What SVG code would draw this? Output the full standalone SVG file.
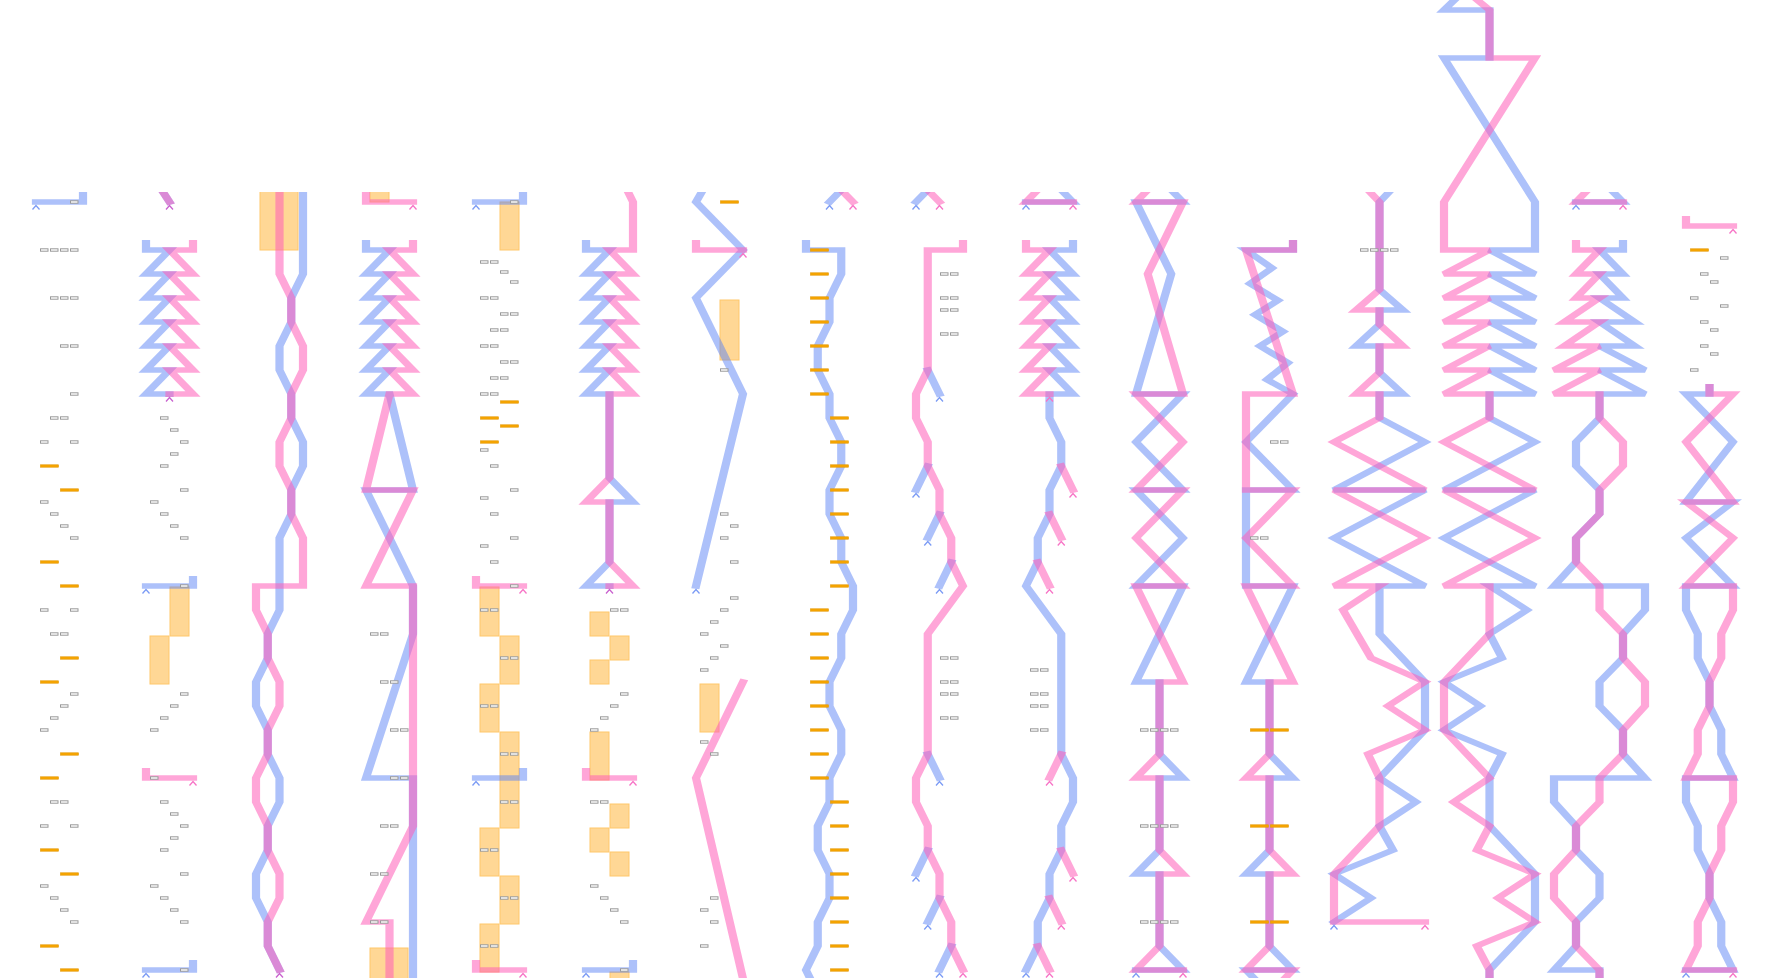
<svg xmlns="http://www.w3.org/2000/svg" width="1770" height="978" viewBox="0 0 1770 978">
<style>
.ln{fill:none;stroke-width:8.2;stroke-linejoin:miter;stroke-miterlimit:3;stroke-linecap:square}
.b{stroke:#5b84f5;stroke-opacity:.5}
.p{stroke:#ff5cb8;stroke-opacity:.55}
.r{fill:#fff;stroke:#999;stroke-width:1}
.o{fill:#f5a500;stroke:#e39600;stroke-width:.6}
.lo{fill:#ffd795;stroke:#ffc76a;stroke-width:1}
.cb{fill:none;stroke:#7b9bf5;stroke-width:1.3}
.cp{fill:none;stroke:#f774c6;stroke-width:1.3}
.cm{fill:none;stroke:#c962cf;stroke-width:1.3}
</style>
<defs>
<clipPath id="clip"><rect x="0" y="192" width="1770" height="786"/></clipPath>
<rect id="sr" x="0.5" y="-1.2" width="7.5" height="2.4"/>
<rect id="ob" x="0.5" y="-1.2" width="18" height="2.4"/>
<path id="ca" d="M-3.5,7.5L0,3.5L3.5,7.5"/>
</defs>
<rect width="1770" height="978" fill="#fff"/>

<g id="col1" clip-path="url(#clip)">
<g class="lanes" transform="matrix(1 0 0 .666667 0 10)">
<path class="ln b" d="M83,270V288H36"/>
</g>
<use href="#ca" class="cb" x="36" y="202"/>
<g class="r">
<use href="#sr" x="70" y="202"/><use href="#sr" x="40" y="250"/><use href="#sr" x="50" y="250"/><use href="#sr" x="60" y="250"/><use href="#sr" x="70" y="250"/>
<use href="#sr" x="50" y="298"/><use href="#sr" x="60" y="298"/><use href="#sr" x="70" y="298"/><use href="#sr" x="60" y="346"/><use href="#sr" x="70" y="346"/>
<use href="#sr" x="70" y="394"/><use href="#sr" x="50" y="418"/><use href="#sr" x="60" y="418"/><use href="#sr" x="40" y="442"/><use href="#sr" x="70" y="442"/>
<use href="#sr" x="40" y="502"/><use href="#sr" x="50" y="514"/><use href="#sr" x="60" y="526"/><use href="#sr" x="70" y="538"/>
<use href="#sr" x="40" y="610"/><use href="#sr" x="70" y="610"/><use href="#sr" x="50" y="634"/><use href="#sr" x="60" y="634"/>
<use href="#sr" x="70" y="694"/><use href="#sr" x="60" y="706"/><use href="#sr" x="50" y="718"/><use href="#sr" x="40" y="730"/>
<use href="#sr" x="50" y="802"/><use href="#sr" x="60" y="802"/><use href="#sr" x="40" y="826"/><use href="#sr" x="70" y="826"/>
<use href="#sr" x="40" y="886"/><use href="#sr" x="50" y="898"/><use href="#sr" x="60" y="910"/><use href="#sr" x="70" y="922"/>
</g>
<g class="o">
<use href="#ob" x="40" y="466"/><use href="#ob" x="60" y="490"/><use href="#ob" x="40" y="562"/><use href="#ob" x="60" y="586"/>
<use href="#ob" x="60" y="658"/><use href="#ob" x="40" y="682"/><use href="#ob" x="60" y="754"/><use href="#ob" x="40" y="778"/>
<use href="#ob" x="40" y="850"/><use href="#ob" x="60" y="874"/><use href="#ob" x="40" y="946"/><use href="#ob" x="60" y="970"/>
</g>
</g>

<g id="col2" clip-path="url(#clip)">
<rect class="lo" x="170" y="587" width="19" height="49"/><rect class="lo" x="150" y="636" width="19" height="48"/>
<g class="lanes" transform="matrix(1 0 0 .666667 0 10)">
<path class="ln b" d="M157.75,261L169.5,288"/><path class="ln p" d="M157.75,261L169.5,288"/>
<path class="ln b" d="M146,349.2V360H169.5L146,396H169.5L146,432H169.5L146,468H169.5L146,504H169.5L146,540H169.5L146,576H169.5v.5"/>
<path class="ln p" d="M193,349.2V360H169.5L193,396H169.5L193,432H169.5L193,468H169.5L193,504H169.5L193,540H169.5L193,576H169.5v.5"/>
<path class="ln b" d="M193,853.2V864H146"/>
<path class="ln p" d="M146,1141.2V1152H193"/>
<path class="ln b" d="M193,1429.2V1440H146"/>
</g>
<use href="#ca" class="cm" x="169.5" y="202"/><use href="#ca" class="cm" x="169.5" y="394"/><use href="#ca" class="cb" x="146" y="586"/><use href="#ca" class="cp" x="193" y="778"/><use href="#ca" class="cb" x="146" y="970"/>
<g class="r">
<use href="#sr" x="160" y="418"/><use href="#sr" x="170" y="430"/><use href="#sr" x="180" y="442"/><use href="#sr" x="170" y="454"/><use href="#sr" x="160" y="466"/>
<use href="#sr" x="180" y="490"/><use href="#sr" x="150" y="502"/><use href="#sr" x="160" y="514"/><use href="#sr" x="170" y="526"/><use href="#sr" x="180" y="538"/>
<use href="#sr" x="180" y="586"/><use href="#sr" x="180" y="694"/><use href="#sr" x="170" y="706"/><use href="#sr" x="160" y="718"/><use href="#sr" x="150" y="730"/>
<use href="#sr" x="150" y="778"/><use href="#sr" x="160" y="802"/><use href="#sr" x="170" y="814"/><use href="#sr" x="180" y="826"/><use href="#sr" x="170" y="838"/>
<use href="#sr" x="160" y="850"/><use href="#sr" x="180" y="874"/><use href="#sr" x="150" y="886"/><use href="#sr" x="160" y="898"/><use href="#sr" x="170" y="910"/>
<use href="#sr" x="180" y="922"/><use href="#sr" x="180" y="970"/>
</g>
</g>

<g id="col3" clip-path="url(#clip)">
<rect class="lo" x="260" y="190" width="38" height="60"/>
<g class="lanes" transform="matrix(1 0 0 .666667 0 10)">
<path class="ln b" d="M303,270V396L291.25,432V468L279.5,504V540L291.25,576V612L303,648V684L291.25,720V756L279.5,792V900L267.75,936V972L256,1008V1044L267.75,1080V1116L279.5,1152V1188L267.75,1224V1260L256,1296V1332L267.75,1368V1404L279.5,1440"/>
<path class="ln p" d="M279.5,270V396L291.25,432V468L303,504V540L291.25,576V612L279.5,648V684L291.25,720V756L303,792V864H256V900L267.75,936V972L279.5,1008V1044L267.75,1080V1116L256,1152V1188L267.75,1224V1260L279.5,1296V1332L267.75,1368V1404L279.5,1440"/>
</g>
<use href="#ca" class="cm" x="279.5" y="970"/>
</g>

<g id="col4" clip-path="url(#clip)">
<rect class="lo" x="370" y="190" width="19" height="12"/><rect class="lo" x="370" y="948" width="38" height="40"/>
<g class="lanes" transform="matrix(1 0 0 .666667 0 10)">
<path class="ln p" d="M366,270V288H413"/>
<path class="ln b" d="M366,349.2V360H389.5L366,396H389.5L366,432H389.5L366,468H389.5L366,504H389.5L366,540H389.5L366,576H389.5L413,720H366L413,864V936L366,1152H413V1480"/>
<path class="ln p" d="M413,349.2V360H389.5L413,396H389.5L413,432H389.5L413,468H389.5L413,504H389.5L413,540H389.5L413,576H389.5L366,720H413L366,864H413V1224L366,1368H389.5V1480"/>
</g>
<use href="#ca" class="cp" x="413" y="202"/>
<g class="r">
<use href="#sr" x="370" y="634"/><use href="#sr" x="380" y="634"/><use href="#sr" x="380" y="682"/><use href="#sr" x="390" y="682"/>
<use href="#sr" x="390" y="730"/><use href="#sr" x="400" y="730"/><use href="#sr" x="390" y="778"/><use href="#sr" x="400" y="778"/>
<use href="#sr" x="380" y="826"/><use href="#sr" x="390" y="826"/><use href="#sr" x="370" y="874"/><use href="#sr" x="380" y="874"/>
<use href="#sr" x="370" y="922"/><use href="#sr" x="380" y="922"/>
</g>
</g>

<g id="col5" clip-path="url(#clip)">
<rect class="lo" x="500" y="202" width="19" height="48"/><rect class="lo" x="480" y="587" width="19" height="49"/><rect class="lo" x="500" y="636" width="19" height="48"/>
<rect class="lo" x="480" y="684" width="19" height="48"/><rect class="lo" x="500" y="732" width="19" height="96"/><rect class="lo" x="480" y="828" width="19" height="48"/>
<rect class="lo" x="500" y="876" width="19" height="48"/><rect class="lo" x="480" y="924" width="19" height="48"/>
<g class="lanes" transform="matrix(1 0 0 .666667 0 10)">
<path class="ln b" d="M523,270V288H476"/>
<path class="ln p" d="M476,853.2V864H523"/>
<path class="ln b" d="M523,1141.2V1152H476"/>
<path class="ln p" d="M476,1429.2V1440H523"/>
</g>
<use href="#ca" class="cb" x="476" y="202"/><use href="#ca" class="cp" x="523" y="586"/><use href="#ca" class="cb" x="476" y="778"/><use href="#ca" class="cp" x="523" y="970"/>
<g class="r">
<use href="#sr" x="510" y="202"/><use href="#sr" x="480" y="262"/><use href="#sr" x="490" y="262"/><use href="#sr" x="500" y="272"/><use href="#sr" x="510" y="282"/>
<use href="#sr" x="480" y="298"/><use href="#sr" x="490" y="298"/><use href="#sr" x="500" y="314"/><use href="#sr" x="510" y="314"/><use href="#sr" x="490" y="330"/><use href="#sr" x="500" y="330"/>
<use href="#sr" x="480" y="346"/><use href="#sr" x="490" y="346"/><use href="#sr" x="500" y="362"/><use href="#sr" x="510" y="362"/><use href="#sr" x="490" y="378"/><use href="#sr" x="500" y="378"/>
<use href="#sr" x="480" y="394"/><use href="#sr" x="490" y="394"/><use href="#sr" x="480" y="450"/><use href="#sr" x="490" y="466"/><use href="#sr" x="510" y="490"/>
<use href="#sr" x="480" y="498"/><use href="#sr" x="490" y="514"/><use href="#sr" x="510" y="538"/><use href="#sr" x="480" y="546"/><use href="#sr" x="490" y="562"/>
<use href="#sr" x="510" y="586"/><use href="#sr" x="480" y="610"/><use href="#sr" x="490" y="610"/><use href="#sr" x="500" y="658"/><use href="#sr" x="510" y="658"/>
<use href="#sr" x="480" y="706"/><use href="#sr" x="490" y="706"/><use href="#sr" x="500" y="754"/><use href="#sr" x="510" y="754"/><use href="#sr" x="500" y="802"/><use href="#sr" x="510" y="802"/>
<use href="#sr" x="480" y="850"/><use href="#sr" x="490" y="850"/><use href="#sr" x="500" y="898"/><use href="#sr" x="510" y="898"/><use href="#sr" x="480" y="946"/><use href="#sr" x="490" y="946"/>
</g>
<g class="o">
<use href="#ob" x="500" y="402"/><use href="#ob" x="480" y="418"/><use href="#ob" x="500" y="426"/><use href="#ob" x="480" y="442"/>
</g>
</g>

<g id="col6" clip-path="url(#clip)">
<rect class="lo" x="590" y="612" width="19" height="24"/><rect class="lo" x="610" y="636" width="19" height="24"/><rect class="lo" x="590" y="660" width="19" height="24"/>
<rect class="lo" x="590" y="732" width="19" height="48"/><rect class="lo" x="610" y="804" width="19" height="24"/><rect class="lo" x="590" y="828" width="19" height="24"/>
<rect class="lo" x="610" y="852" width="19" height="24"/><rect class="lo" x="610" y="972" width="19" height="18"/>
<g class="lanes" transform="matrix(1 0 0 .666667 0 10)">
<path class="ln b" d="M586,349.2V360H609.5L586,396H609.5L586,432H609.5L586,468H609.5L586,504H609.5L586,540H609.5L586,576H609.5V702L633,738H609.5V828L586,864H609.5v.5"/>
<path class="ln p" d="M621.25,252L633,288V360H609.5L633,396H609.5L633,432H609.5L633,468H609.5L633,504H609.5L633,540H609.5L633,576H609.5V702L586,738H609.5V828L633,864H609.5v.5"/>
<path class="ln p" d="M586,1141.2V1152H633"/>
<path class="ln b" d="M633,1429.2V1440H586"/>
</g>
<use href="#ca" class="cm" x="609.5" y="586"/><use href="#ca" class="cp" x="633" y="778"/><use href="#ca" class="cb" x="586" y="970"/>
<g class="r">
<use href="#sr" x="610" y="610"/><use href="#sr" x="620" y="610"/><use href="#sr" x="620" y="694"/><use href="#sr" x="610" y="706"/><use href="#sr" x="600" y="718"/><use href="#sr" x="590" y="730"/>
<use href="#sr" x="590" y="802"/><use href="#sr" x="600" y="802"/><use href="#sr" x="590" y="886"/><use href="#sr" x="600" y="898"/><use href="#sr" x="610" y="910"/><use href="#sr" x="620" y="922"/>
<use href="#sr" x="620" y="970"/>
</g>
</g>

<g id="col7" clip-path="url(#clip)">
<rect class="lo" x="720" y="300" width="19" height="60"/><rect class="lo" x="700" y="684" width="19" height="48"/>
<g class="lanes" transform="matrix(1 0 0 .666667 0 10)">
<path class="ln b" d="M707.75,257.4L696,288L743,360L696,432L743,576L696,864"/>
<path class="ln p" d="M696,349.2V360H743"/>
<path class="ln p" d="M743,1008L696,1152L743,1453"/>
</g>
<use href="#ca" class="cb" x="696" y="586"/><use href="#ca" class="cp" x="743" y="250"/>
<use href="#ob" class="o" x="720" y="202"/>
<g class="r">
<use href="#sr" x="720" y="370"/><use href="#sr" x="720" y="514"/><use href="#sr" x="730" y="526"/><use href="#sr" x="720" y="538"/><use href="#sr" x="730" y="562"/>
<use href="#sr" x="730" y="598"/><use href="#sr" x="720" y="610"/><use href="#sr" x="710" y="622"/><use href="#sr" x="700" y="634"/><use href="#sr" x="720" y="646"/>
<use href="#sr" x="710" y="658"/><use href="#sr" x="700" y="670"/><use href="#sr" x="700" y="742"/><use href="#sr" x="710" y="754"/>
<use href="#sr" x="710" y="898"/><use href="#sr" x="700" y="910"/><use href="#sr" x="710" y="922"/><use href="#sr" x="700" y="946"/>
</g>
</g>

<g id="col8" clip-path="url(#clip)">
<g class="lanes" transform="matrix(1 0 0 .666667 0 10)">
<path class="ln b" d="M841.25,270L829.5,288"/>
<path class="ln p" d="M841.25,270L853,288"/>
<path class="ln b" d="M806,349.2V360H841.25V396L829.5,432V468L817.75,504V540L829.5,576V612L841.25,648V684L829.5,720V756L841.25,792V828L853,864V900L841.25,936V972L829.5,1008V1044L841.25,1080V1116L829.5,1152V1188L817.75,1224V1260L829.5,1296V1332L817.75,1368V1404L806,1440L817.75,1476"/>
</g>
<use href="#ca" class="cb" x="829.5" y="202"/><use href="#ca" class="cp" x="853" y="202"/>
<g class="o">
<use href="#ob" x="810" y="250"/><use href="#ob" x="810" y="274"/><use href="#ob" x="810" y="298"/><use href="#ob" x="810" y="322"/><use href="#ob" x="810" y="346"/><use href="#ob" x="810" y="370"/><use href="#ob" x="810" y="394"/>
<use href="#ob" x="830" y="418"/><use href="#ob" x="830" y="442"/><use href="#ob" x="830" y="466"/><use href="#ob" x="830" y="490"/><use href="#ob" x="830" y="514"/><use href="#ob" x="830" y="538"/><use href="#ob" x="830" y="562"/><use href="#ob" x="830" y="586"/>
<use href="#ob" x="810" y="610"/><use href="#ob" x="810" y="634"/><use href="#ob" x="810" y="658"/><use href="#ob" x="810" y="682"/><use href="#ob" x="810" y="706"/><use href="#ob" x="810" y="730"/><use href="#ob" x="810" y="754"/><use href="#ob" x="810" y="778"/>
<use href="#ob" x="830" y="802"/><use href="#ob" x="830" y="826"/><use href="#ob" x="830" y="850"/><use href="#ob" x="830" y="874"/><use href="#ob" x="830" y="898"/><use href="#ob" x="830" y="922"/><use href="#ob" x="830" y="946"/><use href="#ob" x="830" y="970"/>
</g>
</g>

<g id="col9" clip-path="url(#clip)">
<g class="lanes" transform="matrix(1 0 0 .666667 0 10)">
<path class="ln b" d="M927.75,270L916,288"/>
<path class="ln p" d="M927.75,270L939.5,288"/>
<path class="ln b" d="M927.75,540L939.5,576M927.75,684L916,720M939.5,756L927.75,792M951.25,828L939.5,864M927.75,1116L939.5,1152M927.75,1260L916,1296M939.5,1332L927.75,1368M951.25,1404L939.5,1440"/>
<path class="ln p" d="M963,349.2V360H927.75V540L916,576V612L927.75,648V684L939.5,720V756L951.25,792V828L963,864L927.75,936V1116L916,1152V1188L927.75,1224V1260L939.5,1296V1332L951.25,1368V1404L963,1440"/>
</g>
<use href="#ca" class="cb" x="916" y="202"/><use href="#ca" class="cp" x="939.5" y="202"/><use href="#ca" class="cp" x="963" y="970"/>
<use href="#ca" class="cb" x="939.5" y="394"/><use href="#ca" class="cb" x="916" y="490"/><use href="#ca" class="cb" x="927.75" y="538"/><use href="#ca" class="cb" x="939.5" y="586"/>
<use href="#ca" class="cb" x="939.5" y="778"/><use href="#ca" class="cb" x="916" y="874"/><use href="#ca" class="cb" x="927.75" y="922"/><use href="#ca" class="cb" x="939.5" y="970"/>
<g class="r">
<use href="#sr" x="940" y="274"/><use href="#sr" x="950" y="274"/><use href="#sr" x="940" y="298"/><use href="#sr" x="950" y="298"/><use href="#sr" x="940" y="310"/><use href="#sr" x="950" y="310"/>
<use href="#sr" x="940" y="334"/><use href="#sr" x="950" y="334"/><use href="#sr" x="940" y="658"/><use href="#sr" x="950" y="658"/><use href="#sr" x="940" y="682"/><use href="#sr" x="950" y="682"/>
<use href="#sr" x="940" y="694"/><use href="#sr" x="950" y="694"/><use href="#sr" x="940" y="718"/><use href="#sr" x="950" y="718"/>
</g>
</g>

<g id="col10" clip-path="url(#clip)">
<g class="lanes" transform="matrix(1 0 0 .666667 0 10)">
<path class="ln b" d="M1061.25,270L1073,288H1026"/>
<path class="ln p" d="M1037.75,270L1026,288H1073"/>
<path class="ln b" d="M1073,349.2V360H1049.5L1073,396H1049.5L1073,432H1049.5L1073,468H1049.5L1073,504H1049.5L1073,540H1049.5L1073,576H1049.5V612L1061.25,648V684L1049.5,720V756L1037.75,792V828L1026,864L1061.25,936V1116L1073,1152V1188L1061.25,1224V1260L1049.5,1296V1332L1037.75,1368V1404L1026,1440"/>
<path class="ln p" d="M1026,349.2V360H1049.5L1026,396H1049.5L1026,432H1049.5L1026,468H1049.5L1026,504H1049.5L1026,540H1049.5L1026,576H1049.5v.5"/>
<path class="ln p" d="M1061.25,684L1073,720M1049.5,756L1061.25,792M1037.75,828L1049.5,864M1061.25,1116L1049.5,1152M1061.25,1260L1073,1296M1049.5,1332L1061.25,1368M1037.75,1404L1049.5,1440"/>
</g>
<use href="#ca" class="cp" x="1073" y="202"/><use href="#ca" class="cb" x="1026" y="202"/><use href="#ca" class="cp" x="1049.5" y="394"/><use href="#ca" class="cb" x="1026" y="970"/>
<use href="#ca" class="cp" x="1073" y="490"/><use href="#ca" class="cp" x="1061.25" y="538"/><use href="#ca" class="cp" x="1049.5" y="586"/><use href="#ca" class="cp" x="1049.5" y="778"/>
<use href="#ca" class="cp" x="1073" y="874"/><use href="#ca" class="cp" x="1061.25" y="922"/><use href="#ca" class="cp" x="1049.5" y="970"/>
<g class="r">
<use href="#sr" x="1030" y="670"/><use href="#sr" x="1040" y="670"/><use href="#sr" x="1030" y="694"/><use href="#sr" x="1040" y="694"/>
<use href="#sr" x="1030" y="706"/><use href="#sr" x="1040" y="706"/><use href="#sr" x="1030" y="730"/><use href="#sr" x="1040" y="730"/>
</g>
</g>

<g id="col11" clip-path="url(#clip)">
<g class="lanes" transform="matrix(1 0 0 .666667 0 10)">
<path class="ln b" d="M1171.25,270L1183,288H1136L1171.25,396L1136,576H1183L1136,648L1183,720H1136L1183,792L1136,864H1183L1136,1008H1159.5V1116L1183,1152H1159.5V1260L1136,1296H1159.5V1404L1183,1440H1136"/>
<path class="ln p" d="M1147.75,270L1136,288H1183L1147.75,396L1183,576H1136L1183,648L1136,720H1183L1136,792L1183,864H1136L1183,1008H1159.5V1116L1136,1152H1159.5V1260L1183,1296H1159.5V1404L1136,1440H1183"/>
</g>
<use href="#ca" class="cp" x="1183" y="970"/><use href="#ca" class="cb" x="1136" y="970"/>
<g class="r">
<use href="#sr" x="1140" y="730"/><use href="#sr" x="1150" y="730"/><use href="#sr" x="1160" y="730"/><use href="#sr" x="1170" y="730"/>
<use href="#sr" x="1140" y="826"/><use href="#sr" x="1150" y="826"/><use href="#sr" x="1160" y="826"/><use href="#sr" x="1170" y="826"/>
<use href="#sr" x="1140" y="922"/><use href="#sr" x="1150" y="922"/><use href="#sr" x="1160" y="922"/><use href="#sr" x="1170" y="922"/>
</g>
</g>

<g id="col12" clip-path="url(#clip)">
<g class="lanes" transform="matrix(1 0 0 .666667 0 10)">
<path class="ln b" d="M1293,349.2V360H1246L1272,387L1250,410.4L1278,435.6L1255,457.2L1283,482.4L1260,504L1288,529.2L1267,554.4L1293,576L1246,648L1293,720H1246V864H1293L1246,1008H1269.5V1116L1293,1152H1269.5V1260L1246,1296H1269.5V1404L1293,1440H1246L1269.5,1476"/>
<path class="ln p" d="M1293,349.2V360H1246L1293,576H1246V720H1293L1246,792L1293,864H1246L1293,1008H1269.5V1116L1246,1152H1269.5V1260L1293,1296H1269.5V1404L1246,1440H1293L1269.5,1476"/>
</g>
<g class="o">
<use href="#ob" x="1250" y="730"/><use href="#ob" x="1270" y="730"/><use href="#ob" x="1250" y="826"/><use href="#ob" x="1270" y="826"/><use href="#ob" x="1250" y="922"/><use href="#ob" x="1270" y="922"/>
</g>
<g class="r">
<use href="#sr" x="1270" y="442"/><use href="#sr" x="1280" y="442"/><use href="#sr" x="1250" y="538"/><use href="#sr" x="1260" y="538"/>
</g>
</g>

<g id="col13" clip-path="url(#clip)">
<g class="lanes" transform="matrix(1 0 0 .666667 0 10)">
<path class="ln b" d="M1391,270L1379.5,288V419.4L1403,450H1379.5V471.6L1356,504H1379.5V543.6L1403,576H1379.5V612L1425,648L1334,720H1425L1334,792L1425,864H1379.5V936L1425,1008V1080L1379.5,1152L1416,1188L1379.5,1224L1393,1260L1334,1296L1371,1332L1334,1368"/>
<path class="ln p" d="M1368,270L1379.5,288V419.4L1356,450H1379.5V471.6L1403,504H1379.5V543.6L1356,576H1379.5V612L1334,648L1425,720H1334L1425,792L1334,864H1379.5L1343,900L1371,972L1425,1008L1388,1044L1425,1080L1368,1116L1379.5,1152V1224L1334,1296V1368H1425"/>
</g>
<use href="#ca" class="cp" x="1425" y="922"/><use href="#ca" class="cb" x="1334" y="922"/>
<g class="r">
<use href="#sr" x="1360" y="250"/><use href="#sr" x="1370" y="250"/><use href="#sr" x="1380" y="250"/><use href="#sr" x="1390" y="250"/>
</g>
</g>

<g id="col14">
<g class="lanes" transform="matrix(1 0 0 .666667 0 10)">
<path class="ln b" d="M1459,-21.6L1444,0H1489.5V72H1444L1535,288V360H1489.5L1535,396H1489.5L1535,432H1489.5L1535,468H1489.5L1535,504H1489.5L1535,540H1489.5L1535,576H1489.5V612L1535,648L1444,720H1535L1444,792L1535,864H1489.5L1527,900L1489.5,936L1502,972L1444,1008L1480.4,1044L1444,1080L1502,1116L1489.5,1152V1224L1535,1296V1368L1489.5,1440V1480"/>
<path class="ln p" d="M1472,-21.6L1489.5,0V72H1535L1444,288V360H1489.5L1444,396H1489.5L1444,432H1489.5L1444,468H1489.5L1444,504H1489.5L1444,540H1489.5L1444,576H1489.5V612L1444,648L1535,720H1444L1535,792L1444,864H1489.5V936L1444,1008V1080L1489.5,1152L1453.6,1188L1489.5,1224L1476.8,1260L1535,1296L1498,1332L1535,1368L1476.8,1404L1489.5,1440V1480"/>
</g>
</g>

<g id="col15" clip-path="url(#clip)">
<g class="lanes" transform="matrix(1 0 0 .666667 0 10)">
<path class="ln b" d="M1611.25,270L1623,288H1576"/>
<path class="ln p" d="M1587.75,270L1576,288H1623"/>
<path class="ln b" d="M1623,349.2V360H1599.5L1623,396H1599.5L1623,432H1599.5L1635,468H1599.5L1635,504H1599.5L1645,540H1599.5L1645,576H1599.5V612L1576,648V684L1599.5,720V756L1576,792V828L1554,864H1645V900L1623,936V972L1599.5,1008V1044L1623,1080V1116L1645,1152H1554V1188L1576,1224V1260L1599.5,1296V1332L1576,1368V1404L1554,1440H1599.5V1480"/>
<path class="ln p" d="M1576,349.2V360H1599.5L1576,396H1599.5L1576,432H1599.5L1564,468H1599.5L1564,504H1599.5L1554,540H1599.5L1554,576H1599.5V612L1623,648V684L1599.5,720V756L1576,792V828L1599.5,864V900L1623,936V972L1645,1008V1044L1623,1080V1116L1599.5,1152V1188L1576,1224V1260L1554,1296V1332L1576,1368V1404L1599.5,1440V1480"/>
</g>
<use href="#ca" class="cp" x="1623" y="202"/><use href="#ca" class="cb" x="1576" y="202"/>
</g>

<g id="col16" clip-path="url(#clip)">
<g class="lanes" transform="matrix(1 0 0 .666667 0 10)">
<path class="ln p" d="M1686,313.2V324H1733"/>
<path class="ln b" d="M1709.5,565.2V576H1686L1733,648L1686,738H1733L1686,792L1733,864H1686V900L1697.75,936V972L1709.5,1008V1044L1721.25,1080V1116L1733,1152H1686V1188L1697.75,1224V1260L1709.5,1296V1332L1721.25,1368V1404L1733,1440H1686"/>
<path class="ln p" d="M1709.5,565.2V576H1733L1686,648L1733,738H1686L1733,792L1686,864H1733V900L1721.25,936V972L1709.5,1008V1044L1697.75,1080V1116L1686,1152H1733V1188L1721.25,1224V1260L1709.5,1296V1332L1697.75,1368V1404L1686,1440H1733"/>
</g>
<use href="#ca" class="cp" x="1733" y="226"/><use href="#ca" class="cb" x="1686" y="970"/><use href="#ca" class="cp" x="1733" y="970"/>
<use href="#ob" class="o" x="1690" y="250"/>
<g class="r">
<use href="#sr" x="1720" y="258"/><use href="#sr" x="1700" y="274"/><use href="#sr" x="1710" y="282"/><use href="#sr" x="1690" y="298"/><use href="#sr" x="1720" y="306"/>
<use href="#sr" x="1700" y="322"/><use href="#sr" x="1710" y="330"/><use href="#sr" x="1700" y="346"/><use href="#sr" x="1710" y="354"/><use href="#sr" x="1690" y="370"/>
</g>
</g>
</svg>
